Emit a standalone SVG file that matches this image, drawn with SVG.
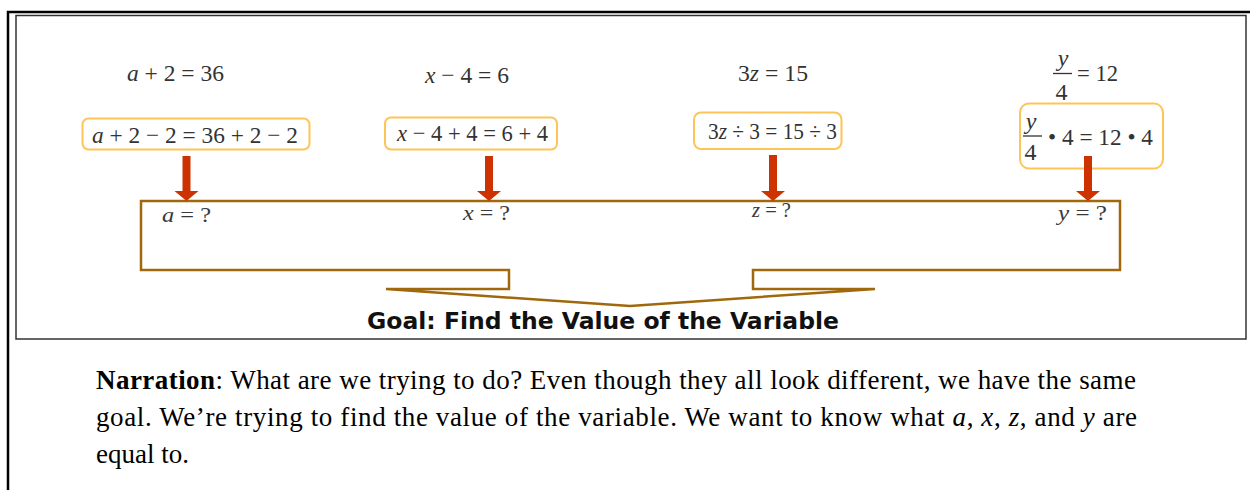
<svg xmlns="http://www.w3.org/2000/svg" width="1250" height="490" viewBox="0 0 1250 490">
<style>
.m{font-family:"Liberation Serif","Times New Roman",serif;fill:#333;font-size:24px}
.v{font-style:italic}
.q{font-family:"Liberation Serif","Times New Roman",serif;fill:#3a3a3a;font-size:22px}
.box{fill:#fff;stroke:#FFC457;stroke-width:2}
.bar{stroke:#333;stroke-width:1.3}
.arr{fill:#CC3300}
.brk{fill:#fff;stroke:#A0680C;stroke-width:2.5;stroke-linejoin:miter}
.goal{font-family:"DejaVu Sans",Verdana,sans-serif;font-weight:bold;font-size:23.5px;fill:#111}
.nar{font-family:"Liberation Serif","Times New Roman",serif;font-size:27px;fill:#000}
</style>
<rect width="1250" height="490" fill="#fff"/>
<g id="frame">
<path d="M8,490 V12 H1250" fill="none" stroke="#000" stroke-width="2.5"/>
<rect x="16" y="15.5" width="1230" height="323.5" fill="#fff" stroke="#333" stroke-width="1.5"/>
</g>
<g id="goal">
<polygon class="brk" points="141,201 1120,201 1120,270 753,270 753,289 875,289 630,306 386,289 509,289 509,270 141,270"/>
<text class="goal" x="367" y="329" textLength="472" lengthAdjust="spacingAndGlyphs">Goal: Find the Value of the Variable</text>
</g>
<g id="col-a">
<text class="m" x="127" y="81" textLength="97" lengthAdjust="spacingAndGlyphs"><tspan class="v">a</tspan> + 2 = 36</text>
<rect class="box" x="82.5" y="118.5" width="227" height="31" rx="6"/>
<text class="m" x="92" y="142.5" font-size="26" textLength="206" lengthAdjust="spacingAndGlyphs"><tspan class="v">a</tspan> + 2 − 2 = 36 + 2 − 2</text>
<text class="q" x="162" y="222" textLength="49" lengthAdjust="spacingAndGlyphs"><tspan class="v">a</tspan> = ?</text>
</g>
<g id="col-x">
<text class="m" x="425" y="83" font-size="22.5" textLength="84" lengthAdjust="spacingAndGlyphs"><tspan class="v">x</tspan> − 4 = 6</text>
<rect class="box" x="385" y="117.5" width="172" height="32" rx="6"/>
<text class="m" x="397" y="140.5" font-size="23" textLength="151" lengthAdjust="spacingAndGlyphs"><tspan class="v">x</tspan> − 4 + 4 = 6 + 4</text>
<text class="q" x="463" y="220" textLength="47" lengthAdjust="spacingAndGlyphs"><tspan class="v">x</tspan> = ?</text>
</g>
<g id="col-z">
<text class="m" x="738" y="81" font-size="22" textLength="70" lengthAdjust="spacingAndGlyphs">3<tspan class="v">z</tspan> = 15</text>
<rect class="box" x="694" y="112.5" width="147.5" height="36.5" rx="7"/>
<text class="m" x="708" y="138.5" font-size="21.5" textLength="129" lengthAdjust="spacingAndGlyphs">3<tspan class="v">z</tspan> ÷ 3 = 15 ÷ 3</text>
<text class="q" x="752" y="217" textLength="39" lengthAdjust="spacingAndGlyphs"><tspan class="v">z</tspan> = ?</text>
</g>
<g id="col-y">
<text class="m v" x="1063" y="66" text-anchor="middle">y</text>
<line class="bar" x1="1053" y1="73.5" x2="1072" y2="73.5"/>
<text class="m" x="1061.5" y="100" text-anchor="middle">4</text>
<text class="m" x="1077" y="81" textLength="41" lengthAdjust="spacingAndGlyphs">= 12</text>
<rect class="box" x="1020" y="103.5" width="143" height="65" rx="9"/>
<text class="m v" x="1031" y="129" text-anchor="middle">y</text>
<line class="bar" x1="1023" y1="136" x2="1042" y2="136"/>
<text class="m" x="1030.5" y="160" text-anchor="middle">4</text>
<text class="m" x="1048" y="144.5" font-size="25" textLength="105" lengthAdjust="spacingAndGlyphs">• 4 = 12 • 4</text>
<text class="q" x="1058" y="220" textLength="49" lengthAdjust="spacingAndGlyphs"><tspan class="v">y</tspan> = ?</text>
</g>
<g id="connectors">
<path class="arr" d="M182.5,156 h8 v35 h8 l-12,10 l-12,-10 h8 z"/>
<path class="arr" d="M485,156 h8 v35 h8 l-12,10 l-12,-10 h8 z"/>
<path class="arr" d="M769,155 h8 v36 h8 l-12,10 l-12,-10 h8 z"/>
<path class="arr" d="M1084,156 h8 v35 h8 l-12,10 l-12,-10 h8 z"/>
</g>
<g id="narration">
<text class="nar" x="96" y="389" textLength="1040" lengthAdjust="spacing"><tspan font-weight="bold">Narration</tspan>: What are we trying to do? Even though they all look different, we have the same</text>
<text class="nar" x="96" y="426" textLength="1041" lengthAdjust="spacing">goal. We’re trying to find the value of the variable. We want to know what <tspan font-style="italic">a</tspan>, <tspan font-style="italic">x</tspan>, <tspan font-style="italic">z</tspan>, and <tspan font-style="italic">y</tspan> are</text>
<text class="nar" x="96" y="463">equal to.</text>
</g>
</svg>
